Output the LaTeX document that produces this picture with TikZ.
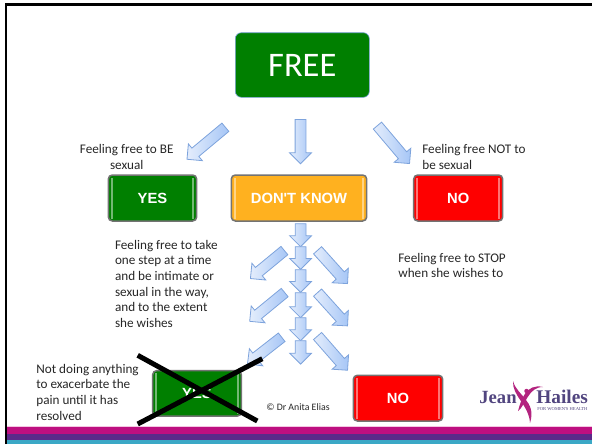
\documentclass[tikz,border=0pt]{standalone}
\usepackage{fontspec}
\setmainfont{Carlito}
\newfontfamily\boxfont{Liberation Sans}
\newfontfamily\logofont{Liberation Serif}
\usetikzlibrary{shapes.arrows}
\definecolor{greenbox}{HTML}{007F00}
\definecolor{orangebox}{HTML}{FFB11F}
\definecolor{redbox}{HTML}{FE0000}
\definecolor{logopurple}{HTML}{51457F}
\definecolor{logopink}{HTML}{B3247F}
\definecolor{arrowedge}{HTML}{7DA3DC}
\definecolor{arrowtail}{HTML}{E4EDFC}
\definecolor{arrowhead}{HTML}{A6C6F6}
\definecolor{bandpink}{HTML}{BE0F80}
\definecolor{bandpale}{HTML}{F4C6E2}
\definecolor{bandpurple}{HTML}{5A2A8A}
\definecolor{bandteal}{HTML}{3BA8C6}
\tikzset{
  blockarrow/.style={single arrow, anchor=tail, draw=arrowedge, line width=0.016cm,
    left color=arrowtail, right color=arrowhead,
    inner sep=0pt, minimum width=0.2cm, text width=0cm, text height=0.2cm,
    single arrow head extend=0.11cm, single arrow tip angle=90, single arrow head indent=0cm},
  label/.style={inner sep=0pt, text=black!85, font=\fontsize{7.5}{8.96}\selectfont},
  btn/.style={rounded corners=0.08cm, draw=black!55, line width=0.03cm, minimum height=0.92cm,
    text=white, inner sep=0pt, font=\boxfont\fontsize{8.4}{10}\selectfont\bfseries,
    path picture={
      \draw [white, opacity=0.45, line width=0.03cm]
        ([xshift=0.07cm,yshift=0.05cm]path picture bounding box.south west) -- ([xshift=0.07cm,yshift=-0.05cm]path picture bounding box.north west)
        ([xshift=-0.07cm,yshift=0.05cm]path picture bounding box.south east) -- ([xshift=-0.07cm,yshift=-0.05cm]path picture bounding box.north east);
    }},
}
\begin{document}
\begin{tikzpicture}
    \useasboundingbox (0,0) rectangle (11.84,8.88);

    % Drawing bottom bands
    \fill [bandpale] (0.14,0) rectangle (11.84,0.37);
    \fill [bandpink] (0.14,0) rectangle (11.84,0.34);
    \fill [bandpurple] (0.14,0.08) rectangle (11.84,0.20);
    \fill [bandteal] (0.14,0) rectangle (11.84,0.08);

    % Drawing frame
    \draw [line width=0.05cm] (0.122,0) -- (0.122,8.79) -- (11.84,8.79);

    % Drawing top box
    \node (free) [rounded corners=0.12cm, fill=greenbox, draw=arrowedge, line width=0.012cm, minimum width=2.68cm, minimum height=1.292cm, text=white, font=\fontsize{19.6}{20}\selectfont] at (6.046,7.58) {FREE};

    % Drawing top arrows
    \node (arrowbe) [blockarrow, rotate=219.8, minimum height=1.0cm] at (4.514,6.34) {};
    \node (arrowdk) [blockarrow, rotate=270, minimum height=0.886cm] at (6.01,6.50) {};
    \node (arrownot) [blockarrow, rotate=-49.8, minimum height=0.994cm] at (7.544,6.374) {};

    % Drawing middle boxes
    \node (yes) [btn, fill=greenbox, minimum width=1.768cm] at (3.05,4.92) {YES};
    \node (dontknow) [btn, fill=orangebox, minimum width=2.708cm] at (5.98,4.92) {DON'T KNOW};
    \node (no) [btn, fill=redbox, minimum width=1.78cm] at (9.164,4.92) {NO};

    % Drawing centre column of arrows
    \node (down1) [blockarrow, rotate=270, minimum height=0.46cm] at (6.012,4.414) {};
    \node (down2) [blockarrow, rotate=270, minimum height=0.454cm] at (6.012,3.954) {};
    \node (down3) [blockarrow, rotate=270, minimum height=0.454cm] at (6.012,3.494) {};
    \node (down4) [blockarrow, rotate=270, minimum height=0.50cm] at (6.012,3.034) {};
    \node (down5) [blockarrow, rotate=270, minimum height=0.46cm] at (6.012,2.534) {};
    \node (down6) [blockarrow, rotate=270, minimum height=0.468cm] at (6.012,2.074) {};

    % Drawing left arrows
    \node (left1) [blockarrow, rotate=219.5, minimum height=0.88cm] at (5.694,3.874) {};
    \node (left2) [blockarrow, rotate=219.4, minimum height=0.906cm] at (5.70,3.034) {};
    \node (left3) [blockarrow, rotate=218, minimum height=0.868cm] at (5.64,2.14) {};

    % Drawing right arrows
    \node (right1) [blockarrow, rotate=-48, minimum height=0.896cm] at (6.346,3.88) {};
    \node (right2) [blockarrow, rotate=-48, minimum height=0.896cm] at (6.346,3.034) {};
    \node (right3) [blockarrow, rotate=-48.8, minimum height=0.91cm] at (6.346,2.166) {};

    % Drawing bottom boxes
    \node (yesend) [btn, fill=greenbox, minimum width=1.772cm, minimum height=0.91cm] at (3.94,1.013) {YES};
    \node (noend) [btn, fill=redbox, minimum width=1.788cm, minimum height=0.914cm] at (7.96,0.917) {NO};

    % Drawing cross over yes
    \coordinate (crossnw) at (2.754,1.774);
    \coordinate (crossse) at (5.146,0.46);
    \coordinate (crosssw) at (2.754,0.40);
    \coordinate (crossne) at (5.246,1.706);
    \draw [line width=0.1cm] (crossnw) -- (crossse);
    \draw [line width=0.1cm] (crosssw) -- (crossne);

    % Marking texts
    \node (freebe) [label, align=center, anchor=north] at (2.534,6.00) {Feeling free to BE\\sexual};
    \node (freenot) [label, align=left, anchor=north west] at (8.44,6.00) {Feeling free NOT to\\be sexual};
    \node (freestep) [label, align=left, anchor=north west] at (2.294,4.09) {Feeling free to take\\one step at a time\\and be intimate or\\sexual in the way,\\and to the extent\\she wishes};
    \node (freestop) [label, align=left, anchor=north west] at (7.96,3.83) {Feeling free to STOP\\when she wishes to};
    \node (nothing) [label, align=left, anchor=north west] at (0.72,1.61) {Not doing anything\\to exacerbate the\\pain until it has\\resolved};
    \node (credit) [label, font=\fontsize{5.6}{7}\selectfont, anchor=west] at (5.32,0.74) {© Dr Anita Elias};

    % Drawing logo
    \node (jean) [inner sep=0pt, anchor=base east, text=logopurple, font=\logofont\fontsize{10.6}{12}\selectfont\bfseries] at (10.34,0.82) {Jean};
    \node (hailes) [inner sep=0pt, anchor=base west, text=logopurple, font=\logofont\fontsize{11}{12}\selectfont\bfseries] at (10.72,0.82) {Hailes};
    \node (tagline) [inner sep=0pt, anchor=west, text=logopurple, font=\logofont\fontsize{2.6}{3}\selectfont] at (10.74,0.70) {FOR WOMEN'S HEALTH};
    \fill [logopink] (10.26,1.26) .. controls (10.34,0.96) and (10.74,0.86) .. (10.60,0.42) .. controls (10.58,0.78) and (10.24,0.96) .. (10.26,1.26);
    \fill [logopink] (10.86,1.14) .. controls (10.56,1.14) and (10.52,0.78) .. (10.36,0.66) .. controls (10.42,0.88) and (10.52,1.22) .. (10.86,1.14);
    \fill [logopink] (10.53,1.06) circle (0.045);
\end{tikzpicture}
\end{document}
